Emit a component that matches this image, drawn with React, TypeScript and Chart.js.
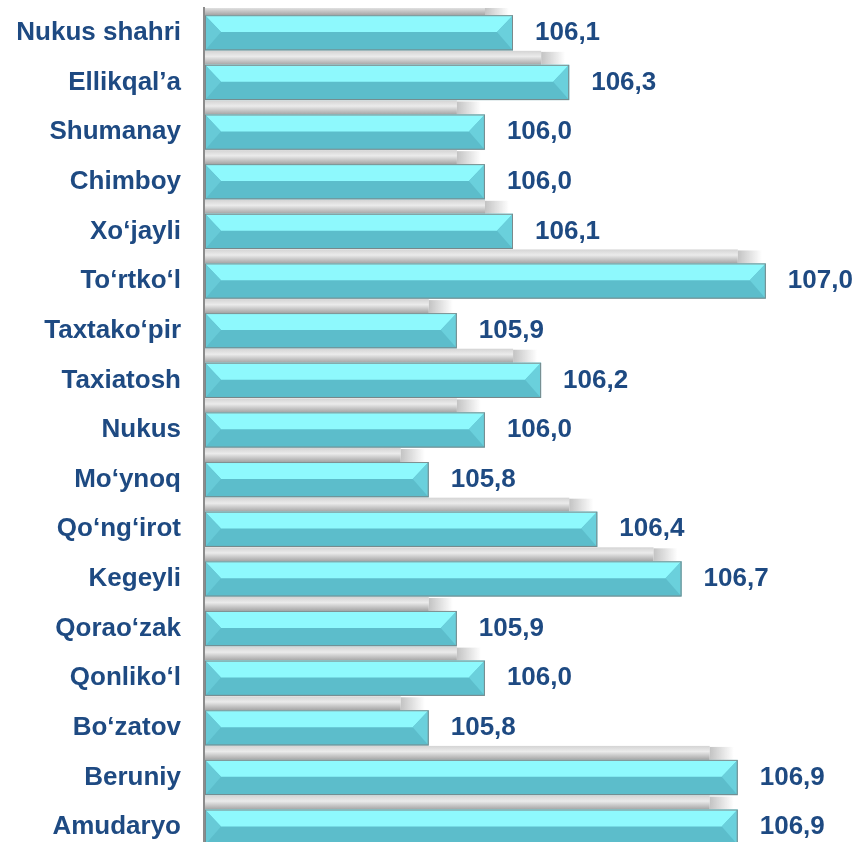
import React, { useEffect, useRef } from "react";
import { Chart, registerables } from "chart.js";

Chart.register(...registerables);

const categories: string[] = [
  "Nukus shahri",
  "Ellikqal’a",
  "Shumanay",
  "Chimboy",
  "Xo‘jayli",
  "To‘rtko‘l",
  "Taxtako‘pir",
  "Taxiatosh",
  "Nukus",
  "Mo‘ynoq",
  "Qo‘ng‘irot",
  "Kegeyli",
  "Qorao‘zak",
  "Qonliko‘l",
  "Bo‘zatov",
  "Beruniy",
  "Amudaryo",
];

const values: number[] = [
  106.1, 106.3, 106.0, 106.0, 106.1, 107.0, 105.9, 106.2, 106.0, 105.8, 106.4,
  106.7, 105.9, 106.0, 105.8, 106.9, 106.9,
];

const axisMin = 105;
const axisMax = 107.2;

const TEXT_COLOR = "#1E4A82";
const FONT_FAMILY = "'Liberation Sans', Arial, sans-serif";
const FONT_SIZE = 26;

const fmt = (v: number) => v.toFixed(1).replace(".", ",");

const bevelPlugin = {
  id: "bevelBars",
  afterDatasetsDraw(chart: any) {
    const { ctx, chartArea } = chart;
    const meta = chart.getDatasetMeta(0);
    const els = meta.data as any[];

    // shadows
    ctx.save();
    ctx.beginPath();
    ctx.rect(chartArea.left, chartArea.top, chart.width - chartArea.left, chartArea.bottom - chartArea.top);
    ctx.clip();
    els.forEach((el: any) => {
      const { x, y, base, height } = el.getProps(["x", "y", "base", "height"], true);
      const top = y - height / 2;
      const sh = 14;
      const x0 = base + 1;
      const x1 = x - 4;
      const g = ctx.createLinearGradient(0, top - sh, 0, top);
      g.addColorStop(0, "#d4d4d4");
      g.addColorStop(0.4, "#ebebeb");
      g.addColorStop(1, "#a4a4a4");
      ctx.fillStyle = g;
      ctx.fillRect(x0, top - sh, x1 - 24 - x0, sh);
      const gh = ctx.createLinearGradient(x1 - 24, 0, x1, 0);
      gh.addColorStop(0, "rgba(195,195,195,1)");
      gh.addColorStop(1, "rgba(195,195,195,0)");
      ctx.fillStyle = gh;
      ctx.fillRect(x1 - 24, top - sh + 1, 24, sh - 1);
    });
    ctx.restore();

    // bars
    els.forEach((el: any) => {
      const { x, y, base, height } = el.getProps(["x", "y", "base", "height"], true);
      const top = y - height / 2;
      const bottom = y + height / 2;
      const x0 = base + 1;
      const x1 = x;
      const mid = top + height * 0.48;
      const b = 16;
      ctx.save();
      ctx.fillStyle = "#5CBDCB";
      ctx.fillRect(x0, top, x1 - x0, bottom - top);
      ctx.fillStyle = "#8EF9FD";
      ctx.beginPath();
      ctx.moveTo(x0, top);
      ctx.lineTo(x1, top);
      ctx.lineTo(x1 - b, mid);
      ctx.lineTo(x0 + b, mid);
      ctx.closePath();
      ctx.fill();
      ctx.fillStyle = "#67CAD7";
      ctx.beginPath();
      ctx.moveTo(x0, top);
      ctx.lineTo(x0 + b, mid);
      ctx.lineTo(x0, bottom);
      ctx.closePath();
      ctx.fill();
      ctx.fillStyle = "#6AD0DC";
      ctx.beginPath();
      ctx.moveTo(x1, top);
      ctx.lineTo(x1 - b, mid);
      ctx.lineTo(x1, bottom);
      ctx.closePath();
      ctx.fill();
      ctx.strokeStyle = "rgba(125,125,125,0.85)";
      ctx.lineWidth = 1;
      ctx.strokeRect(x0 + 0.5, top + 0.5, x1 - x0 - 1, bottom - top - 1);
      ctx.restore();
    });

    // value labels
    ctx.save();
    ctx.font = `bold ${FONT_SIZE}px ${FONT_FAMILY}`;
    ctx.fillStyle = TEXT_COLOR;
    ctx.textAlign = "left";
    ctx.textBaseline = "middle";
    els.forEach((el: any, i: number) => {
      const { x, y } = el.getProps(["x", "y"], true);
      ctx.fillText(fmt(values[i]), x + 22, y);
    });
    ctx.restore();
  },
};

export default function App() {
  const canvasRef = useRef<HTMLCanvasElement | null>(null);

  useEffect(() => {
    const canvas = canvasRef.current;
    if (!canvas) return;
    const chart = new Chart(canvas, {
      type: "bar",
      data: {
        labels: categories,
        datasets: [
          {
            data: values,
            base: axisMin,
            backgroundColor: "rgba(0,0,0,0)",
            borderWidth: 0,
            barPercentage: 0.71,
            categoryPercentage: 1,
          },
        ],
      },
      options: {
        indexAxis: "y",
        responsive: false,
        animation: false,
        devicePixelRatio: 1,
        layout: { padding: { top: 8, right: 37, bottom: 0, left: 0 } },
        plugins: {
          legend: { display: false },
          tooltip: { enabled: false },
          title: { display: false },
        },
        scales: {
          x: {
            display: false,
            min: axisMin,
            max: axisMax,
          },
          y: {
            afterFit: (scale: any) => {
              scale.width = 204;
              scale.paddingTop = 0;
              scale.paddingBottom = 0;
            },
            grid: { display: false, drawTicks: false },
            border: { display: true, color: "#8c8c8c", width: 2 },
            ticks: {
              color: TEXT_COLOR,
              padding: 23,
              font: { family: FONT_FAMILY, size: FONT_SIZE, weight: "bold" },
            },
          },
        },
      },
      plugins: [bevelPlugin],
    });
    return () => chart.destroy();
  }, []);

  return (
    <div
      style={{
        position: "fixed",
        left: 0,
        top: 0,
        width: 859,
        height: 842,
        overflow: "hidden",
        background: "#ffffff",
      }}
    >
      <canvas ref={canvasRef} width={859} height={852} style={{ width: 859, height: 852, display: "block" }} />
    </div>
  );
}
